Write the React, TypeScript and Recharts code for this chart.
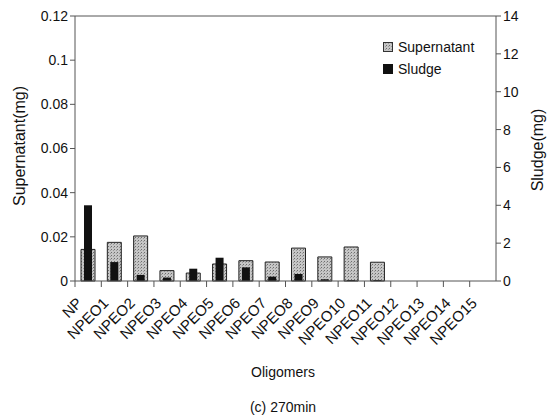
import React from 'react';
import { BarChart, Bar, XAxis, YAxis, ReferenceLine } from 'recharts';

const categories = ['NP', 'NPEO1', 'NPEO2', 'NPEO3', 'NPEO4', 'NPEO5', 'NPEO6', 'NPEO7', 'NPEO8', 'NPEO9', 'NPEO10', 'NPEO11', 'NPEO12', 'NPEO13', 'NPEO14', 'NPEO15'];
const supernatant = [0.0143, 0.0175, 0.0204, 0.0047, 0.0036, 0.0077, 0.0092, 0.0086, 0.0149, 0.0109, 0.0154, 0.0085, 0, 0, 0, 0];
const sludge = [4.0, 1.0, 0.32, 0.18, 0.65, 1.23, 0.72, 0.23, 0.37, 0.09, 0.05, 0.05, 0, 0, 0, 0];
const leftTicks = [0, 0.02, 0.04, 0.06, 0.08, 0.1, 0.12];
const rightTicks = [0, 2, 4, 6, 8, 10, 12, 14];

const data = categories.map((name, i) => ({ name, supernatant: supernatant[i], sludge: sludge[i] }));

const FONT = '"Liberation Sans", Arial, sans-serif';
const BAND = (496 - 75) / categories.length;

// category label under the axis, plus a tick mark on the left edge of the band
const XTick = (props: any) => {
  const { x, y, payload } = props;
  const left = x - BAND / 2;
  return (
    <g>
      <line x1={left} x2={left} y1={y - 2} y2={y + 4} stroke="#555" />
      <text
        transform={`translate(${x - 5},${y + 21}) rotate(-45)`}
        textAnchor="end"
        fontSize={15}
        fill="#111"
        fontFamily={FONT}
      >
        {payload.value}
      </text>
    </g>
  );
};

const App = () => {
  return (
    <div style={{ position: 'absolute', left: 0, top: 0, width: 552, height: 420, fontFamily: FONT, color: '#111' }}>
      <svg width={0} height={0} style={{ position: 'absolute' }}>
        <defs>
          <pattern id="dots" width={3} height={3} patternUnits="userSpaceOnUse">
            <rect width={3} height={3} fill="#c6c6c6" />
            <rect x={0} y={0} width={1} height={1} fill="#6e6e6e" />
            <rect x={2} y={1} width={1} height={1} fill="#9a9a9a" />
          </pattern>
        </defs>
      </svg>
      <BarChart
        width={552}
        height={420}
        data={data}
        margin={{ top: 16, left: 18, right: 16, bottom: 39 }}
        barGap={0}
      >
        <XAxis
          xAxisId="a"
          dataKey="name"
          interval={0}
          height={100}
          stroke="#555"
          tickLine={false}
          tick={<XTick />}
          tickSize={0}
        />
        <XAxis xAxisId="b" dataKey="name" hide />
        <YAxis
          yAxisId="left"
          domain={[0, 0.12]}
          ticks={leftTicks}
          width={57}
          stroke="#555"
          tickSize={5}
          tick={{ fill: '#111', fontSize: 14, fontFamily: FONT }}
        />
        <YAxis
          yAxisId="right"
          orientation="right"
          domain={[0, 14]}
          ticks={rightTicks}
          width={40}
          stroke="#555"
          tickSize={5}
          tick={{ fill: '#111', fontSize: 14, fontFamily: FONT }}
        />
        <ReferenceLine xAxisId="a" yAxisId="left" y={0.12} stroke="#555" />
        <Bar
          xAxisId="a"
          yAxisId="left"
          dataKey="supernatant"
          barSize={14}
          fill="url(#dots)"
          stroke="#222"
          strokeWidth={1}
          isAnimationActive={false}
        />
        <Bar
          xAxisId="b"
          yAxisId="right"
          dataKey="sludge"
          barSize={8}
          fill="#111"
          isAnimationActive={false}
        />
      </BarChart>

      <div style={{ position: 'absolute', left: 383, top: 36, fontSize: 14, lineHeight: '22px' }}>
        <div style={{ display: 'flex', alignItems: 'center' }}>
          <svg width={10} height={10} style={{ marginRight: 5 }}>
            <rect x={0.5} y={0.5} width={9} height={9} fill="url(#dots)" stroke="#333" />
          </svg>
          Supernatant
        </div>
        <div style={{ display: 'flex', alignItems: 'center' }}>
          <svg width={10} height={10} style={{ marginRight: 5 }}>
            <rect width={10} height={10} fill="#111" />
          </svg>
          Sludge
        </div>
      </div>

      <div
        style={{
          position: 'absolute',
          left: 20,
          top: 146,
          fontSize: 16,
          whiteSpace: 'nowrap',
          transform: 'translate(-50%, -50%) rotate(-90deg)',
        }}
      >
        Supernatant(mg)
      </div>
      <div
        style={{
          position: 'absolute',
          left: 538,
          top: 150,
          fontSize: 16,
          whiteSpace: 'nowrap',
          transform: 'translate(-50%, -50%) rotate(-90deg)',
        }}
      >
        Sludge(mg)
      </div>
      <div style={{ position: 'absolute', left: 283, top: 372, fontSize: 14, transform: 'translate(-50%, -50%)' }}>
        Oligomers
      </div>
      <div style={{ position: 'absolute', left: 283, top: 407, fontSize: 14, transform: 'translate(-50%, -50%)' }}>
        (c) 270min
      </div>
    </div>
  );
};

export default App;
